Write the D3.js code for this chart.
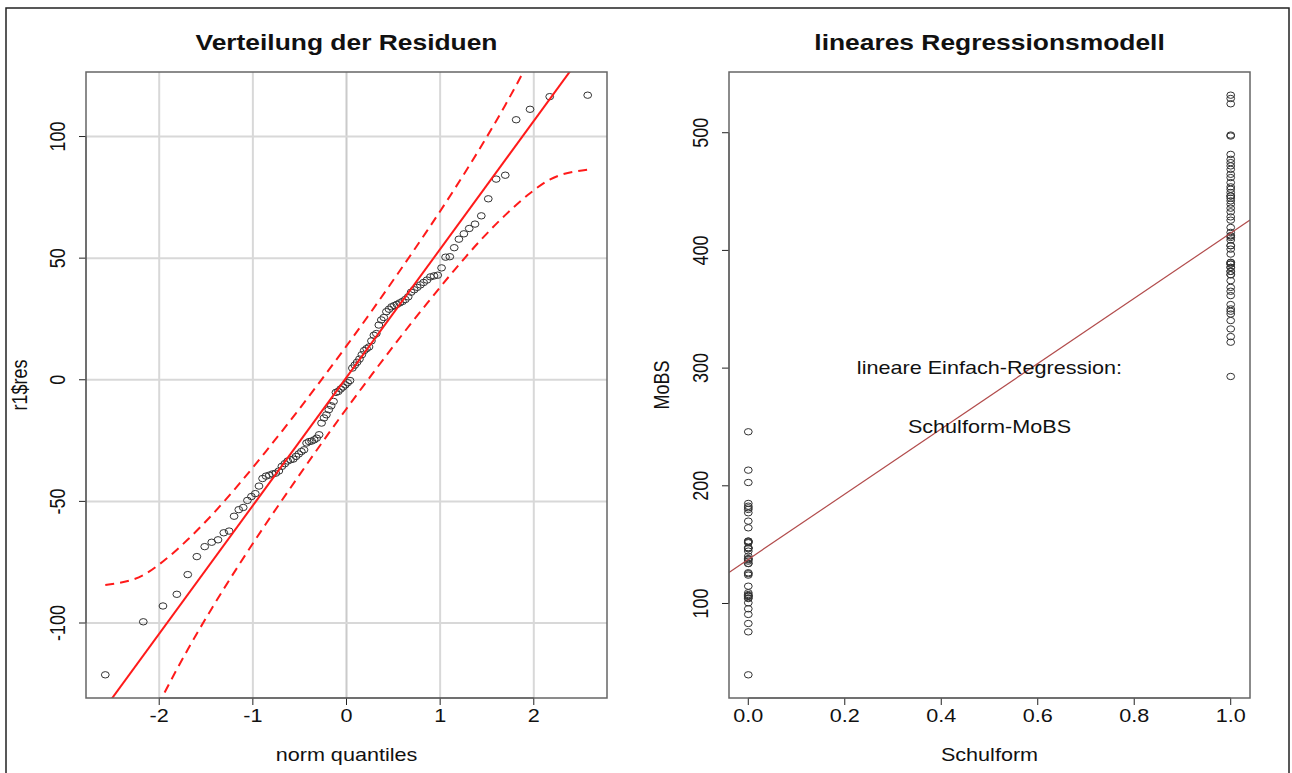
<!DOCTYPE html>
<html>
<head>
<meta charset="utf-8">
<script src="https://cdn.jsdelivr.net/npm/d3@7"></script>
<style>
    body { margin: 0; background: #fff; }
    svg text { font-family: "Liberation Sans", Arial, Helvetica, sans-serif; fill: #111; }
</style>
</head>
<body>
<div id="chart"></div>
<script>
// sorted residuals of the model (r1$res)
const residuals = [
    -121.3, -99.5, -93.0, -88.2, -80.1, -72.7, -68.6, -66.8, -65.8, -62.9,
    -62.2, -56.1, -53.4, -52.5, -49.6, -48.0, -46.8, -43.7, -40.6, -39.6,
    -39.2, -38.7, -38.4, -37.5, -35.6, -34.5, -33.4, -32.9, -32.6, -31.5,
    -30.5, -29.5, -28.8, -26.0, -25.4, -25.2, -24.7, -24.0, -22.6, -17.8,
    -15.7, -14.4, -12.3, -10.7, -8.9, -5.2, -4.8, -3.8, -3.0, -2.1,
    -1.2, -0.3, 4.8, 6.0, 7.2, 8.5, 10.3, 12.0, 12.8, 13.5,
    16.0, 18.3, 19.0, 22.5, 24.6, 25.6, 28.0, 29.0, 30.0, 30.5,
    31.0, 31.6, 32.2, 33.0, 34.1, 36.0, 37.0, 38.0, 39.0, 40.0,
    41.0, 42.3, 42.7, 43.0, 46.0, 50.4, 50.6, 54.3, 57.8, 60.0,
    62.2, 64.0, 67.4, 74.4, 82.5, 84.1, 106.9, 111.2, 116.4, 117.0
];

// reference line (intercept, slope) and confidence envelope
const qqLine = [1.0, 52.7];
const envZ = [-2.576, -2.17, -1.96, -1.695, -1.44, -1.15, -0.86, -0.54, -0.266, 0,
    0.266, 0.54, 0.86, 1.15, 1.44, 1.695, 1.96, 2.17, 2.576];
const envUpper = [-84.4, -80.3, -74.7, -65.7, -55.7, -43.0, -29.4, -13.8, 0.1, 13.9,
    28.1, 43.2, 61.2, 78.2, 96.1, 112.9, 131.9, 148.5, 187.2];
const envLower = [-185.2, -146.5, -129.9, -110.9, -94.1, -76.2, -59.2, -41.2, -26.1, -11.9,
    1.9, 15.8, 31.4, 45.0, 57.7, 67.7, 76.7, 82.3, 86.4];

const qqXTicks = [-2, -1, 0, 1, 2];
const qqYTicks = [-100, -50, 0, 50, 100];

// MoBS by Schulform (0 / 1)
const mobsGroup0 = [245.9, 213.3, 202.8, 185.0, 182.7, 181.3, 179.9, 177.1, 170.0, 164.3,
    153.0, 153.0, 152.2, 151.6, 147.3, 147.3, 146.5, 144.5, 140.2, 138.0,
    138.0, 137.2, 136.0, 134.0, 134.0, 126.1, 125.3, 124.1, 114.7, 109.1,
    107.6, 106.8, 106.2, 106.2, 104.8, 104.2, 100.6, 95.5, 90.7, 83.0,
    75.9, 39.4];
const mobsGroup1 = [531.9, 529.1, 524.6, 498.0, 497.2, 481.6, 477.4, 474.6, 471.8, 468.9,
    464.7, 461.9, 457.6, 454.0, 452.0, 449.2, 446.3, 446.3, 444.4, 442.1,
    439.3, 435.9, 432.8, 428.5, 425.7, 419.5, 415.3, 412.4, 412.4, 411.0,
    408.8, 404.0, 404.0, 401.1, 396.9, 389.8, 389.8, 388.4, 388.4, 385.6,
    385.6, 382.2, 382.2, 379.4, 379.4, 374.3, 368.6, 365.3, 361.6, 354.0,
    350.3, 348.3, 346.0, 340.4, 333.3, 326.8, 322.0, 292.9];

const regXTicks = [0, 0.2, 0.4, 0.6, 0.8, 1.0];
const regYTicks = [100, 200, 300, 400, 500];
const notes = [{x: 0.5, y: 300, text: "lineare Einfach-Regression:"},
               {x: 0.5, y: 250, text: "Schulform-MoBS"}];

const SX = 1.2; // the picture is stretched sideways

// inverse normal cdf (Acklam)
function qnorm(p) {
    const a = [-39.69683028665376, 220.9460984245205, -275.9285104469687, 138.3577518672690, -30.66479806614716, 2.506628277459239];
    const b = [-54.47609879822406, 161.5858368580409, -155.6989798598866, 66.80131188771972, -13.28068155288572];
    const c = [-0.007784894002430293, -0.3223964580411365, -2.400758277161838, -2.549732539343734, 4.374664141464968, 2.938163982698783];
    const d = [0.007784695709041462, 0.3224671290700398, 2.445134137142996, 3.754408661907416];
    const pl = 0.02425;
    let q, r;
    if (p < pl) {
        q = Math.sqrt(-2 * Math.log(p));
        return (((((c[0]*q+c[1])*q+c[2])*q+c[3])*q+c[4])*q+c[5]) / ((((d[0]*q+d[1])*q+d[2])*q+d[3])*q+1);
    }
    if (p > 1 - pl) {
        q = Math.sqrt(-2 * Math.log(1 - p));
        return -(((((c[0]*q+c[1])*q+c[2])*q+c[3])*q+c[4])*q+c[5]) / ((((d[0]*q+d[1])*q+d[2])*q+d[3])*q+1);
    }
    q = p - 0.5; r = q * q;
    return (((((a[0]*r+a[1])*r+a[2])*r+a[3])*r+a[4])*r+a[5])*q / (((((b[0]*r+b[1])*r+b[2])*r+b[3])*r+b[4])*r+1);
}

// R style range: data extent plus 4% on each side
function rRange(vals) {
    let [lo, hi] = d3.extent(vals);
    let pad = (hi - lo) * 0.04;
    return [lo - pad, hi + pad];
}

// plain hyphen minus like R prints it
const fmtInt = t => String(t);
const fmtOne = t => t.toFixed(1);

function addText(parent, x, y, str, size, bold, rotate) {
    let g = parent.append("g")
        .attr("transform", `translate(${x},${y}) scale(${SX},1)` + (rotate ? " rotate(-90)" : ""));
    g.append("text")
        .attr("text-anchor", "middle")
        .style("font-size", size + "px")
        .style("font-weight", bold ? "bold" : "normal")
        .text(str);
}

const svg = d3.select("#chart").append("svg")
    .attr("width", 1292)
    .attr("height", 773);

// page frame
svg.append("path")
    .attr("d", "M6,773 V8 H1289 V773")
    .attr("fill", "none")
    .attr("stroke", "#222")
    .attr("stroke-width", 1.5);

function drawAxes(g, x, y, xTicks, yTicks, fmtX, fmtY, box) {
    // bottom axis
    let ax = g.append("g").attr("transform", `translate(0,${box.bottom})`);
    ax.append("line")
        .attr("x1", x(xTicks[0])).attr("x2", x(xTicks[xTicks.length - 1]))
        .attr("stroke", "#222");
    xTicks.forEach(t => {
        ax.append("line").attr("x1", x(t)).attr("x2", x(t)).attr("y2", 7).attr("stroke", "#222");
        addText(ax, x(t), 23.5, fmtX(t), 18, false, false);
    });
    // left axis
    let ay = g.append("g").attr("transform", `translate(${box.left},0)`);
    ay.append("line")
        .attr("y1", y(yTicks[0])).attr("y2", y(yTicks[yTicks.length - 1]))
        .attr("stroke", "#222");
    yTicks.forEach(t => {
        ay.append("line").attr("y1", y(t)).attr("y2", y(t)).attr("x2", -7).attr("stroke", "#222");
        addText(ay, -21, y(t), fmtY(t), 18, false, true);
    });
    // box
    g.append("rect")
        .attr("x", box.left).attr("y", box.top)
        .attr("width", box.right - box.left).attr("height", box.bottom - box.top)
        .attr("fill", "none")
        .attr("stroke", "#666")
        .attr("stroke-width", 1.5);
}

// ---------- left: QQ plot of residuals ----------
{
    let box = {left: 86, right: 607, top: 72, bottom: 698};
    let n = residuals.length;
    let qq = residuals.map((r, i) => ({z: qnorm((i + 0.5) / n), r: r}));

    let x = d3.scaleLinear().domain(rRange(qq.map(d => d.z))).range([box.left, box.right]);
    let y = d3.scaleLinear().domain(rRange(residuals)).range([box.bottom, box.top]);

    let g = svg.append("g");
    g.append("clipPath").attr("id", "clipL")
        .append("rect").attr("x", box.left).attr("y", box.top)
        .attr("width", box.right - box.left).attr("height", box.bottom - box.top);

    // grid
    g.selectAll(".vgrid").data(qqXTicks).enter().append("line")
        .attr("x1", d => x(d)).attr("x2", d => x(d))
        .attr("y1", box.top).attr("y2", box.bottom)
        .attr("stroke", d => d === 0 ? "#cacaca" : "#d8d8d8").attr("stroke-width", 2);
    g.selectAll(".hgrid").data(qqYTicks).enter().append("line")
        .attr("y1", d => y(d)).attr("y2", d => y(d))
        .attr("x1", box.left).attr("x2", box.right)
        .attr("stroke", "#d8d8d8").attr("stroke-width", 2);

    // points
    g.selectAll(".pt").data(qq).enter().append("ellipse")
        .attr("cx", d => x(d.z)).attr("cy", d => y(d.r))
        .attr("rx", 3.9).attr("ry", 3.2)
        .attr("fill", "none").attr("stroke", "#333").attr("stroke-width", 1);

    let lines = g.append("g").attr("clip-path", "url(#clipL)");
    let xd = x.domain();
    lines.append("line")
        .attr("x1", x(xd[0])).attr("y1", y(qqLine[0] + qqLine[1] * xd[0]))
        .attr("x2", x(xd[1])).attr("y2", y(qqLine[0] + qqLine[1] * xd[1]))
        .attr("stroke", "#ff1a1a").attr("stroke-width", 2);

    let env = d3.line().curve(d3.curveMonotoneX).x(d => x(d[0])).y(d => y(d[1]));
    [envUpper, envLower].forEach(arr => {
        lines.append("path")
            .attr("d", env(envZ.map((z, i) => [z, arr[i]])))
            .attr("fill", "none")
            .attr("stroke", "#ff1a1a").attr("stroke-width", 2)
            .attr("stroke-dasharray", "9,6");
    });

    drawAxes(g, x, y, qqXTicks, qqYTicks, fmtInt, fmtInt, box);

    addText(g, (box.left + box.right) / 2, 50, "Verteilung der Residuen", 22, true, false);
    addText(g, (box.left + box.right) / 2, 761, "norm quantiles", 18, false, false);
    addText(g, 27, (box.top + box.bottom) / 2, "r1$res", 18, false, true);
}

// ---------- right: linear regression ----------
{
    let box = {left: 729, right: 1250, top: 72, bottom: 698};
    let pts = mobsGroup0.map(v => ({s: 0, v: v})).concat(mobsGroup1.map(v => ({s: 1, v: v})));

    let x = d3.scaleLinear().domain([-0.04, 1.04]).range([box.left, box.right]);
    let y = d3.scaleLinear().domain(rRange(pts.map(d => d.v))).range([box.bottom, box.top]);

    // least squares fit of MoBS on Schulform
    let b0 = d3.mean(mobsGroup0);
    let b1 = d3.mean(mobsGroup1) - b0;

    let g = svg.append("g");
    g.append("clipPath").attr("id", "clipR")
        .append("rect").attr("x", box.left).attr("y", box.top)
        .attr("width", box.right - box.left).attr("height", box.bottom - box.top);

    g.selectAll(".pt").data(pts).enter().append("ellipse")
        .attr("cx", d => x(d.s)).attr("cy", d => y(d.v))
        .attr("rx", 3.9).attr("ry", 3.2)
        .attr("fill", "none").attr("stroke", "#333").attr("stroke-width", 1);

    let xd = x.domain();
    g.append("line")
        .attr("clip-path", "url(#clipR)")
        .attr("x1", x(xd[0])).attr("y1", y(b0 + b1 * xd[0]))
        .attr("x2", x(xd[1])).attr("y2", y(b0 + b1 * xd[1]))
        .attr("stroke", "#b24c4c").attr("stroke-width", 1.2);

    notes.forEach(d => addText(g, x(d.x), y(d.y) + 6, d.text, 18, false, false));

    drawAxes(g, x, y, regXTicks, regYTicks, fmtOne, fmtInt, box);

    addText(g, (box.left + box.right) / 2, 50, "lineares Regressionsmodell", 22, true, false);
    addText(g, (box.left + box.right) / 2, 761, "Schulform", 18, false, false);
    addText(g, 669, (box.top + box.bottom) / 2, "MoBS", 18, false, true);
}
</script>
</body>
</html>
